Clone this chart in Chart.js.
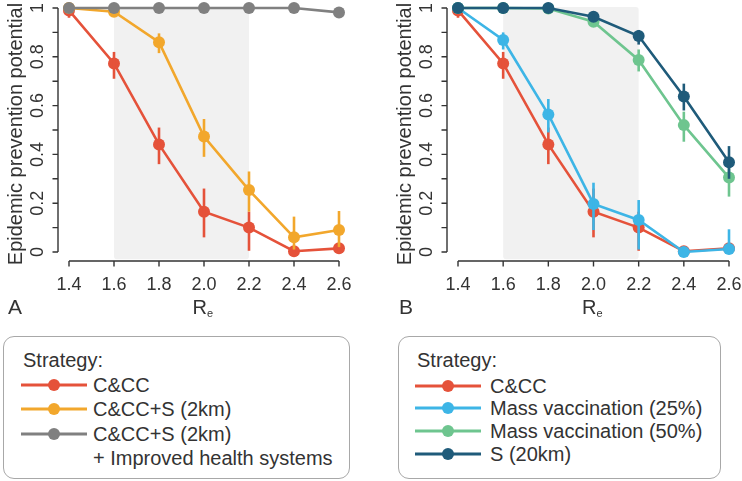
<!DOCTYPE html>
<html><head><meta charset="utf-8">
<script src="https://cdn.jsdelivr.net/npm/chart.js@4"></script>
<style>
body{margin:0;background:#fff;width:742px;height:481px;overflow:hidden;position:relative;font-family:"Liberation Sans",Arial,sans-serif;color:#333}
canvas{position:absolute;top:0}
.leg{position:absolute;border:1px solid #a8a8a8;border-radius:11px;box-sizing:border-box}
.leg .t{position:absolute;font-size:20px;line-height:22px;white-space:nowrap;transform:translateY(-50%)}
.leg .ln{position:absolute;height:3px;transform:translateY(-50%)}
.leg .dt{position:absolute;width:12px;height:12px;border-radius:50%;transform:translate(-50%,-50%)}
</style></head>
<body>
<canvas id="cA" width="371" height="330" style="left:0"></canvas>
<canvas id="cB" width="371" height="330" style="left:371px"></canvas>
<div class="leg" id="legA" style="left:3px;top:336px;width:347px;height:143px"></div>
<div class="leg" id="legB" style="left:398px;top:336px;width:323px;height:143px"></div>
<script>
// ---- data ----
const xVals = [1.4, 1.6, 1.8, 2.0, 2.2, 2.4, 2.6];
const xTickLabels = ["1.4", "1.6", "1.8", "2.0", "2.2", "2.4", "2.6"];
const yTickValues = [0, 0.2, 0.4, 0.6, 0.8, 1];
const yTickLabels = ["0", "0.2", "0.4", "0.6", "0.8", "1"];
const shadeRange = [1.6, 2.2];

const ccVals  = [0.99, 0.773, 0.441, 0.165, 0.10, 0.003, 0.015];
const ccLo    = [0.96, 0.71, 0.36, 0.06, 0.005, 0.0, 0.003];
const ccHi    = [1.0, 0.82, 0.51, 0.26, 0.165, 0.015, 0.03];

const ccsVals = [1.0, 0.985, 0.86, 0.473, 0.254, 0.06, 0.09];
const ccsLo   = [1.0, 0.97, 0.815, 0.39, 0.165, 0.01, 0.02];
const ccsHi   = [1.0, 1.0, 0.896, 0.545, 0.33, 0.145, 0.168];

const ccsHsVals = [1.0, 1.0, 1.0, 1.0, 1.0, 1.0, 0.982];

const mv25Vals = [1.0, 0.869, 0.564, 0.197, 0.131, 0.0, 0.012];
const mv25Lo   = [1.0, 0.83, 0.49, 0.09, 0.01, 0.0, 0.0];
const mv25Hi   = [1.0, 0.90, 0.627, 0.284, 0.213, 0.005, 0.093];

const mv50Vals = [1.0, 1.0, 0.998, 0.944, 0.787, 0.52, 0.305];
const mv50Lo   = [1.0, 1.0, 0.99, 0.925, 0.74, 0.452, 0.227];
const mv50Hi   = [1.0, 1.0, 1.0, 0.96, 0.83, 0.575, 0.36];

const s20Vals = [1.0, 1.0, 1.0, 0.964, 0.885, 0.637, 0.368];
const s20Lo   = [1.0, 0.985, 0.995, 0.95, 0.85, 0.58, 0.30];
const s20Hi   = [1.0, 1.0, 1.0, 0.975, 0.91, 0.69, 0.434];

const colRed = "#e5523a", colOrange = "#f2a72c", colGray = "#808080",
      colBlue = "#3db5e6", colGreen = "#6ec58f", colDark = "#1f5b7a";

const seriesA = [
  {name: "C&CC", color: colRed, v: ccVals, lo: ccLo, hi: ccHi},
  {name: "C&CC+S (2km)", color: colOrange, v: ccsVals, lo: ccsLo, hi: ccsHi},
  {name: "C&CC+S (2km)", extra: "+ Improved health systems", color: colGray, v: ccsHsVals, lo: null, hi: null}
];
const seriesB = [
  {name: "C&CC", color: colRed, v: ccVals, lo: ccLo, hi: ccHi},
  {name: "Mass vaccination (25%)", color: colBlue, v: mv25Vals, lo: mv25Lo, hi: mv25Hi},
  {name: "Mass vaccination (50%)", color: colGreen, v: mv50Vals, lo: mv50Lo, hi: mv50Hi},
  {name: "S (20km)", color: colDark, v: s20Vals, lo: s20Lo, hi: s20Hi}
];

const FONT = '"Liberation Sans", Arial, sans-serif';
const TXT = "#333";

const rPlugin = {
  id: "rstyle",
  beforeDatasetsDraw(chart) {
    const {ctx} = chart, xs = chart.scales.x, ys = chart.scales.y;
    const x0 = xs.getPixelForValue(shadeRange[0]), x1 = xs.getPixelForValue(shadeRange[1]);
    const y0 = ys.getPixelForValue(1.0), y1 = ys.getPixelForValue(-0.03);
    ctx.save();
    ctx.fillStyle = "#f1f1f1";
    ctx.beginPath();
    ctx.roundRect(x0, y0 - 1, x1 - x0, y1 - y0 + 1, 3);
    ctx.fill();
    ctx.restore();
  },
  afterDatasetDraw(chart, args) {
    const ds = chart.data.datasets[args.index];
    if (!ds.lo) return;
    const {ctx} = chart, xs = chart.scales.x, ys = chart.scales.y;
    ctx.save();
    ctx.strokeStyle = ds.borderColor;
    ctx.lineWidth = 2.6;
    ds.lo.forEach((lo, i) => {
      const px = xs.getPixelForValue(xVals[i]);
      ctx.beginPath();
      ctx.moveTo(px, ys.getPixelForValue(lo));
      ctx.lineTo(px, ys.getPixelForValue(ds.hi[i]));
      ctx.stroke();
    });
    ctx.restore();
  },
  afterDraw(chart, args, opts) {
    const {ctx} = chart, xs = chart.scales.x, ys = chart.scales.y;
    const ax = xs.getPixelForValue(xVals[0]) - 11;
    const ay = ys.getPixelForValue(0) + 9;
    ctx.save();
    ctx.strokeStyle = "#333";
    ctx.lineWidth = 1.4;
    // y axis
    ctx.beginPath();
    ctx.moveTo(ax, ys.getPixelForValue(0));
    ctx.lineTo(ax, ys.getPixelForValue(1));
    for (let k = 0; k <= 10; k++) {
      const py = ys.getPixelForValue(k / 10);
      ctx.moveTo(ax - 5.5, py); ctx.lineTo(ax, py);
    }
    // x axis
    ctx.moveTo(xs.getPixelForValue(xVals[0]), ay);
    ctx.lineTo(xs.getPixelForValue(xVals[xVals.length - 1]), ay);
    xVals.forEach(v => {
      const px = xs.getPixelForValue(v);
      ctx.moveTo(px, ay); ctx.lineTo(px, ay + 5.5);
    });
    ctx.stroke();
    ctx.fillStyle = TXT;
    ctx.textAlign = "center";
    ctx.textBaseline = "middle";
    ctx.font = "18px " + FONT;
    xTickLabels.forEach((t, i) => ctx.fillText(t, xs.getPixelForValue(xVals[i]), ay + 24));
    yTickLabels.forEach((t, i) => {
      ctx.save();
      ctx.translate(ax - 20, ys.getPixelForValue(yTickValues[i]));
      ctx.rotate(-Math.PI / 2);
      ctx.fillText(t, 0, 0);
      ctx.restore();
    });
    // y title
    ctx.save();
    ctx.font = "20px " + FONT;
    ctx.translate(ax - 42, (ys.getPixelForValue(0) + ys.getPixelForValue(1)) / 2 + 4);
    ctx.rotate(-Math.PI / 2);
    ctx.fillText("Epidemic prevention potential", 0, 0);
    ctx.restore();
    // x title R_e
    const cx = (xs.getPixelForValue(xVals[0]) + xs.getPixelForValue(xVals[xVals.length - 1])) / 2;
    ctx.font = "20px " + FONT;
    ctx.textAlign = "right";
    ctx.fillText("R", cx + 3, ay + 47);
    ctx.textAlign = "left";
    ctx.font = "11px " + FONT;
    ctx.fillText("e", cx + 3, ay + 53);
    // panel letter
    ctx.font = "21px " + FONT;
    ctx.textAlign = "center";
    ctx.fillText(opts.letter, opts.letterX, ay + 47);
    ctx.restore();
  }
};

function makeChart(id, series, padLeft, padRight, letter, letterX) {
  const n = series.length;
  return new Chart(document.getElementById(id), {
    type: "line",
    data: {
      datasets: series.map((s, i) => ({
        label: s.name,
        data: xVals.map((x, j) => ({x: x, y: s.v[j]})),
        lo: s.lo, hi: s.hi,
        borderColor: s.color,
        backgroundColor: s.color,
        pointBackgroundColor: s.color,
        pointBorderWidth: 0,
        pointRadius: 6,
        borderWidth: 2.6,
        tension: 0,
        clip: false,
        order: n - i
      }))
    },
    options: {
      responsive: false,
      animation: false,
      events: [],
      layout: {padding: {left: padLeft, right: padRight, top: 8, bottom: 78}},
      plugins: {legend: {display: false}, tooltip: {enabled: false}, rstyle: {letter: letter, letterX: letterX}},
      scales: {
        x: {type: "linear", min: 1.4, max: 2.6, display: false},
        y: {type: "linear", min: 0, max: 1, display: false}
      }
    },
    plugins: [rPlugin]
  });
}

makeChart("cA", seriesA, 69, 32, "A", 15);
makeChart("cB", seriesB, 87, 13, "B", 35);

function makeLegend(id, series, lineX0, lineX1, textX, titleX, rows) {
  const el = document.getElementById(id);
  let h = `<div class="t" style="left:${titleX}px;top:23px">Strategy:</div>`;
  series.forEach((s, i) => {
    const y = rows[i];
    h += `<div class="ln" style="left:${lineX0}px;width:${lineX1 - lineX0}px;top:${y}px;background:${s.color}"></div>`;
    h += `<div class="dt" style="left:${(lineX0 + lineX1) / 2}px;top:${y}px;background:${s.color}"></div>`;
    h += `<div class="t" style="left:${textX}px;top:${y}px">${s.name.replace(/&/g, "&amp;")}</div>`;
    if (s.extra) h += `<div class="t" style="left:${textX}px;top:${y + 24}px">${s.extra}</div>`;
  });
  el.innerHTML = h;
}
makeLegend("legA", seriesA, 17, 83, 89, 19, [48, 72, 97]);
makeLegend("legB", seriesB, 16, 82, 91, 18, [49, 71, 94, 117]);
</script>
</body></html>
